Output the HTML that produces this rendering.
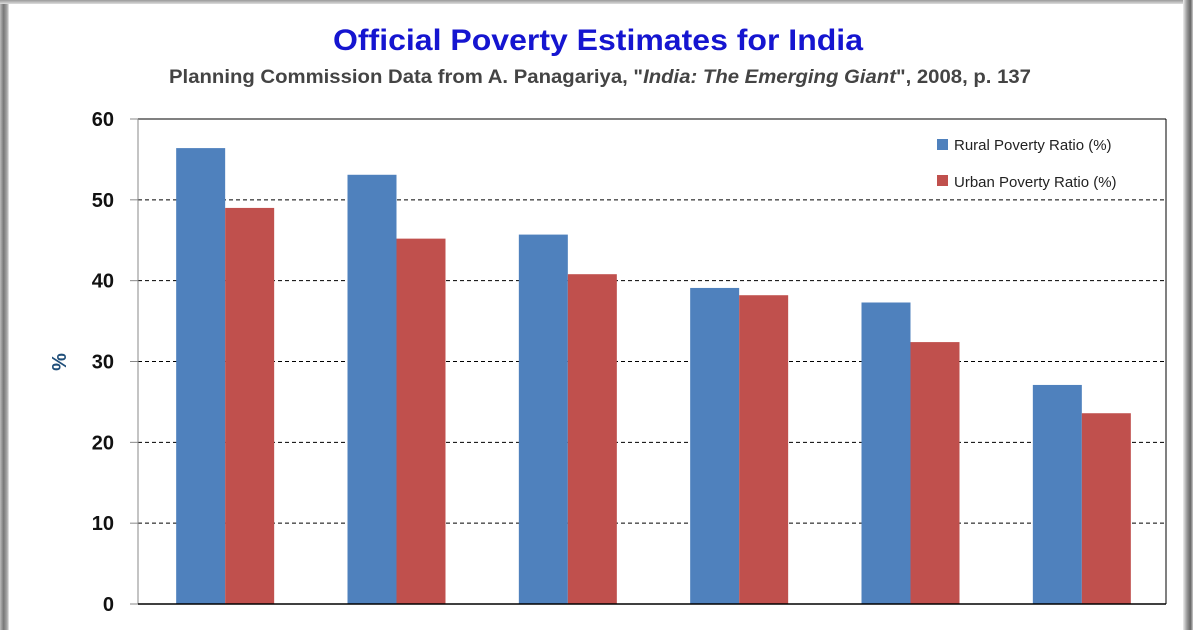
<!DOCTYPE html>
<html><head><meta charset="utf-8"><style>
html,body{margin:0;padding:0;background:#fff;}
body{width:1196px;height:630px;position:relative;overflow:hidden;font-family:"Liberation Sans",sans-serif;}
</style></head><body>
<div style="position:absolute;left:0;top:0;width:9px;height:630px;background:linear-gradient(to right,#bbb,#777 40%,#aaa 80%,#eee)"></div>
<div style="position:absolute;left:0;top:0;width:1192px;height:4px;background:linear-gradient(#999,#ddd)"></div>
<div style="position:absolute;left:1183px;top:0;width:10px;height:630px;background:linear-gradient(to right,#eee,#999 40%,#666 75%,#ccc)"></div>
<svg id="chart" width="1196" height="630" style="position:absolute;left:0;top:0">
<text x="598" y="50" text-anchor="middle" font-size="30" font-weight="bold" fill="#1515d0" textLength="530" lengthAdjust="spacingAndGlyphs">Official Poverty Estimates for India</text>
<text x="600" y="83" text-anchor="middle" font-size="19" font-weight="bold" fill="#444" textLength="862" lengthAdjust="spacingAndGlyphs">Planning Commission Data from A. Panagariya, "<tspan font-style="italic">India: The Emerging Giant</tspan>", 2008, p. 137</text>
<text x="0" y="0" transform="translate(66,362) rotate(-90)" text-anchor="middle" font-size="20" font-weight="bold" fill="#1f4e79">%</text>
<g id="grid"></g><g id="bars"></g>
<g>
<rect x="937" y="139" width="11" height="11" fill="#4f81bd"/>
<text x="954" y="150" font-size="15" fill="#222">Rural Poverty Ratio (%)</text>
<rect x="937" y="175" width="11" height="11" fill="#c0504d"/>
<text x="954" y="187" font-size="15" fill="#222">Urban Poverty Ratio (%)</text>
</g>
</svg>
<script>
const categories=["1973-74","1977-78","1983","1993-94","1999-00","2004-05"];
const rural=[56.4,53.1,45.7,39.1,37.3,27.1];
const urban=[49.0,45.2,40.8,38.2,32.4,23.6];
const ticks=[0,10,20,30,40,50,60];
const NS="http://www.w3.org/2000/svg";
const X0=138,X1=1166,Y0=604,Y1=119,YMAX=60;
const yScale=v=>Y0-(v/YMAX)*(Y0-Y1);
const gw=(X1-X0)/categories.length;
const gx=i=>X0+gw*i+gw/2+2;
const BW=49;
function mk(t,a,p){const e=document.createElementNS(NS,t);for(const k in a)e.setAttribute(k,a[k]);p.appendChild(e);return e;}
const gridG=document.getElementById('grid'),barsG=document.getElementById('bars');
ticks.forEach(t=>{
  const yy=yScale(t);
  if(t>0&&t<60){const l=mk('line',{x1:X0,x2:X1,y1:yy,y2:yy,stroke:'#000','stroke-width':1,'stroke-dasharray':'4,3'},gridG);
  
  }
  const tk=mk('line',{x1:X0-8,x2:X0,y1:yy,y2:yy,stroke:'#888'},gridG);
  
  
  const tx=mk('text',{x:114,y:yy+7,'text-anchor':'end','font-size':20,'font-weight':'bold',fill:'#111'},gridG);
  tx.textContent=t;
  
  
});
const plotTop=mk('line',{x1:X0,x2:X1,y1:Y1,y2:Y1,stroke:'#000'},gridG);


const plotRight=mk('line',{x1:X1,x2:X1,y1:Y1,y2:Y0,stroke:'#000'},gridG);


const yAxis=mk('line',{x1:X0,x2:X0,y1:Y1,y2:Y0,stroke:'#888'},gridG);


categories.forEach((c,i)=>{
  const r=mk('rect',{x:gx(i)-BW-0.5,y:yScale(rural[i]),width:BW,height:Y0-yScale(rural[i]),fill:'#4f81bd'},barsG);
  
  
  const u=mk('rect',{x:gx(i)-0.5,y:yScale(urban[i]),width:BW,height:Y0-yScale(urban[i]),fill:'#c0504d'},barsG);
  
  
});
const xAxis=mk('line',{x1:X0,x2:X1,y1:Y0,y2:Y0,stroke:'#000','stroke-width':1.5},barsG);


</script>
</body></html>
